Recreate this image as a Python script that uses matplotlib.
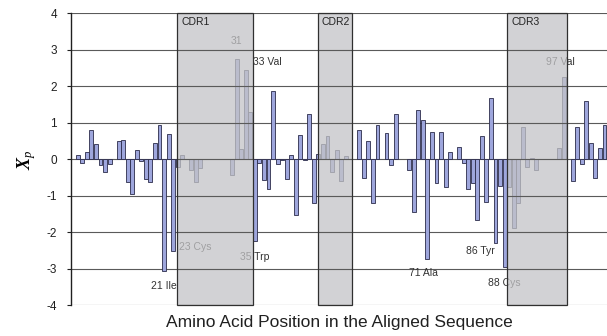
import matplotlib
matplotlib.use('Agg')
import matplotlib.pyplot as plt
from matplotlib.patches import Rectangle
import numpy as np

plt.rcParams['font.family'] = ['Liberation Sans', 'DejaVu Sans']
plt.rcParams['axes.unicode_minus'] = False
plt.rcParams['mathtext.fontset'] = 'custom'
plt.rcParams['mathtext.rm'] = 'Liberation Serif'
plt.rcParams['mathtext.it'] = 'Liberation Serif:italic'
plt.rcParams['mathtext.bf'] = 'Liberation Serif:bold:italic'

# Xp value per aligned position (None = no bar)
values = [None, 0.12, -0.11, 0.20, 0.79, 0.43, -0.16, -0.34, -0.12, None,
          0.50, 0.53, -0.62, -0.95, 0.26, -0.06, -0.55, -0.62, 0.45, 0.95,
          -3.07, 0.68, -2.52, -0.20, 0.12, None, -0.29, -0.62, -0.25,
          None, None, None, None, None, None,
          -0.44, 2.75, 0.27, 2.45, 1.30, -2.25, -0.11, -0.57, -0.80, 1.86,
          -0.14, -0.02, -0.55, 0.12, -1.52, 0.67, -0.03, 1.23, -1.21,
          0.15, 0.42, 0.64, -0.36, 0.25, -0.59, 0.08, None, None,
          0.79, -0.52, 0.50, -1.21, 0.94, None, 0.73, -0.15, 1.24, None, None,
          -0.28, -1.44, 1.35, 1.08, -2.74, 0.75, -0.66, 0.75, -0.75, 0.21, None,
          0.35, -0.11, -0.82, -0.64, -1.66, 0.64, -1.18, 1.68, -2.30, -0.74,
          -2.95, -0.77, -1.89, -1.21, 0.89, -0.22, 0.04, -0.30,
          None, None, None, None,
          0.30, 2.25, None, -0.59, 0.89, -0.14, 1.59, 0.45, -0.52, 0.30, 0.93]

cdr_names = ['CDR1', 'CDR2', 'CDR3']
cdr_starts = [22.89, 53.86, 95.58]
cdr_ends = [39.63, 61.29, 108.8]

label_index = [20, 22, 36, 38, 40, 78, 93, 95, 108]
label_text = ['21 Ile', '23 Cys', '31', '33 Val', '35 Trp', '71 Ala', '86 Tyr', '88 Cys', '97 Val']
# placement: (dx pt, dy pt, ha)
label_place = [(0, -10.8, 'center'), (4.3, 3.2, 'left'), (0, 12.6, 'center'),
               (5.2, 5.4, 'left'), (0.2, -11.5, 'center'), (-2.9, -10, 'center'),
               (-0.7, -5.4, 'right'), (0, -11.5, 'center'), (-2, 10.8, 'center')]

yticks = [-4, -3, -2, -1, 0, 1, 2, 3, 4]

fig = plt.figure(figsize=(6.07, 3.36), dpi=100)
ax = fig.add_axes([71/607, 1-305.3/336, (607-70.5)/607, (305.3-13.3)/336])

x = np.arange(len(values))
vals = np.array([np.nan if v is None else v for v in values])
mask = ~np.isnan(vals)
ax.bar(x[mask], vals[mask], width=0.86, color='#9ea6dc', edgecolor='#2b2b4a',
       linewidth=0.6, zorder=2)

grid_c = '#5a5a5a'
ax.set_yticks(yticks)
ax.set_ylim(-4, 4)
ax.set_xlim(-0.5, 117.67)
ax.yaxis.grid(True, color=grid_c, linewidth=0.8, zorder=1)
ax.set_axisbelow(True)

for name, s, e in zip(cdr_names, cdr_starts, cdr_ends):
    ax.add_patch(Rectangle((s, -4), e - s, 8, facecolor='#c4c4c7', alpha=0.75,
                           edgecolor='none', zorder=3))
    ax.add_patch(Rectangle((s, -4), e - s, 8, facecolor='none',
                           edgecolor='#303030', linewidth=0.9, zorder=4, clip_on=False))
    ax.hlines(yticks, s, e, color=grid_c, linewidth=0.8, zorder=3.5)
    ax.annotate(name, xy=(s, 4), xytext=(3, -3), textcoords='offset points',
                ha='left', va='top', fontsize=7.5, color='#222222', zorder=5)

for idx, txt, (dx, dy, ha) in zip(label_index, label_text, label_place):
    ax.annotate(txt, xy=(idx, vals[idx]), xytext=(dx, dy), textcoords='offset points',
                ha=ha, va='center', fontsize=7.5, color='#333333', zorder=2.5)

for sp in ['top', 'right', 'bottom']:
    ax.spines[sp].set_visible(False)
ax.spines['left'].set_color('#202020')
ax.spines['left'].set_linewidth(1.0)
ax.tick_params(axis='x', bottom=False, labelbottom=False)
ax.tick_params(axis='y', direction='out', length=3, width=0.8, pad=7,
               labelsize=8.5, colors='#202020')

ax.set_ylabel(r'$\mathbf{X}_{\mathit{p}}$', fontsize=13, labelpad=6)
ax.set_xlabel('Amino Acid Position in the Aligned Sequence', fontsize=12.5,
              color='#202020', labelpad=7)

fig.savefig('out.png', dpi=100)
